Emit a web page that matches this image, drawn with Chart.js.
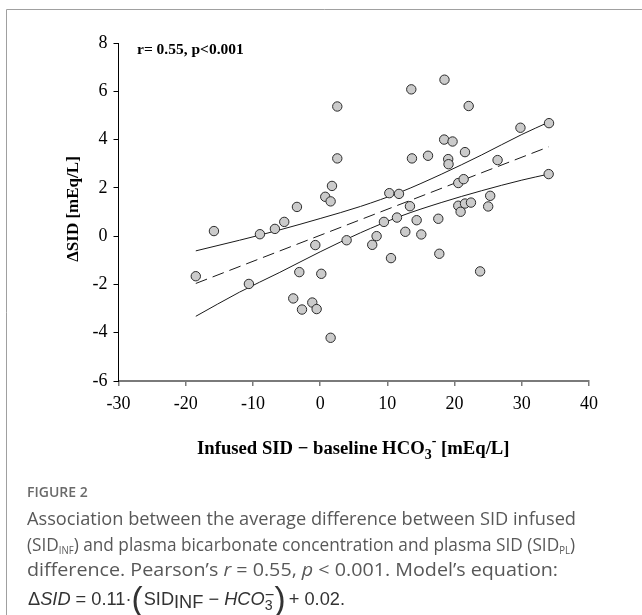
<!DOCTYPE html>
<html>
<head>
<meta charset="utf-8">
<script src="https://cdn.jsdelivr.net/npm/chart.js@4.4.1/dist/chart.umd.min.js"></script>
<style>
  html, body { margin: 0; padding: 0; background: #fff; }
  #wrap { width: 642px; height: 615px; }
</style>
</head>
<body>
<div id="wrap"><canvas id="sidChart" width="642" height="615"></canvas></div>
<script>
// ============================================
// DATA
// ============================================
const sidDiff = [-18.5, -15.8, -10.6, -8.96, -6.73, -5.34, -4.0, -3.45, -3.1, -2.7,
    -1.17, -0.72, -0.52, 0.17, 0.76, 1.56, 1.76, 1.56, 2.55, 2.55,
    3.94, 7.75, 8.4, 9.49, 10.29, 10.54, 11.43, 11.73, 12.67, 13.36,
    13.56, 13.66, 14.36, 15.05, 16.05, 17.58, 17.73, 18.45, 18.5, 19.05,
    19.1, 19.7, 20.55, 20.55, 20.9, 21.35, 21.55, 21.55, 22.1, 22.44,
    23.8, 25.0, 25.3, 26.4, 29.8, 34.05, 34.0];
const deltaSid = [-1.66, 0.21, -1.98, 0.08, 0.30, 0.59, -2.58, 1.21, -1.49, -3.04,
    -2.75, -0.37, -3.02, -1.56, 1.63, 1.44, 2.08, -4.21, 5.37, 3.22,
    -0.17, -0.36, 0.0, 0.59, 1.78, -0.91, 0.77, 1.75, 0.18, 1.24,
    6.08, 3.22, 0.66, 0.07, 3.33, 0.72, -0.73, 4.0, 6.48, 3.19,
    2.98, 3.92, 2.2, 1.26, 1.01, 2.36, 1.35, 3.48, 5.39, 1.39,
    -1.46, 1.23, 1.67, 3.15, 4.49, 4.68, 2.57];

// regression line end points
const fitX = [-18.5, 34];
const fitY = [-1.96, 3.70];

// confidence band
const bandX = [-18.5, -12, -6, 0, 6, 12, 18, 24, 30, 34];
const bandUpper = [-0.61, -0.17, 0.26, 0.73, 1.23, 1.83, 2.56, 3.36, 4.21, 4.72];
const bandLower = [-3.32, -2.32, -1.50, -0.65, 0.14, 0.83, 1.39, 1.88, 2.32, 2.57];

const xTicks = [-30, -20, -10, 0, 10, 20, 30, 40];
const yTicks = [-6, -4, -2, 0, 2, 4, 6, 8];

const SERIF = '"Liberation Serif", "Times New Roman", serif';
const SANS = '"Open Sans", "Noto Sans", sans-serif';
const EQ = '"Liberation Sans", Arial, sans-serif';

function pairs(xs, ys) {
    return xs.map((x, i) => ({ x: x, y: ys[i] }));
}

// width of a list of text runs
function runsWidth(ctx, runs) {
    let w = 0;
    runs.forEach(r => {
        ctx.font = r.font;
        w += (r.w !== undefined ? r.w : ctx.measureText(r.t).width) + (r.dx || 0);
    });
    return w;
}

// draw text runs one after another, squeezed/stretched to a target width
function drawRuns(ctx, x, y, runs, color, target) {
    ctx.save();
    ctx.translate(x, y);
    if (target) ctx.scale(target / runsWidth(ctx, runs), 1);
    let cx = 0;
    runs.forEach(r => {
        ctx.font = r.font;
        ctx.fillStyle = r.color || color;
        if (r.draw) {
            r.draw(ctx, cx);
            cx += r.w;
        } else {
            ctx.fillText(r.t, cx, r.dy || 0);
            cx += ctx.measureText(r.t).width;
        }
        cx += r.dx || 0;
    });
    ctx.restore();
}

// ============================================
// DECORATION PLUGIN (frame, titles, caption)
// ============================================
const decorPlugin = {
    id: 'decor',
    afterDraw(chart) {
        const ctx = chart.ctx;
        ctx.save();

        // outer frame
        ctx.strokeStyle = '#a0a0a0';
        ctx.lineWidth = 1;
        ctx.beginPath();
        ctx.moveTo(6.5, 615);
        ctx.lineTo(6.5, 9.5);
        ctx.lineTo(642, 9.5);
        ctx.stroke();

        ctx.textBaseline = 'alphabetic';
        ctx.textAlign = 'left';

        // stats annotation
        ctx.fillStyle = '#000';
        ctx.font = 'bold 15.5px ' + SERIF;
        ctx.fillText('r= 0.55, p<0.001', 137, 54);

        // y axis title
        ctx.save();
        ctx.translate(78, 209);
        ctx.rotate(-Math.PI / 2);
        ctx.textAlign = 'center';
        ctx.font = 'bold 17px ' + SERIF;
        ctx.fillText('\u0394SID [mEq/L]', 0, 0);
        ctx.restore();

        // x axis title
        const bold = 'bold 18.7px ' + SERIF;
        const small = 'bold 14px ' + SERIF;
        drawRuns(ctx, 197, 454, [
            { t: 'Infused SID \u2212 baseline HCO', font: bold },
            { t: '3', font: small, dy: 5 },
            { t: '-', font: small, dy: -9 },
            { t: ' [mEq/L]', font: bold }
        ], '#000');

        // caption
        ctx.fillStyle = '#6a6a6a';
        ctx.font = '600 14px ' + SANS;
        ctx.fillText('FIGURE 2', 27, 497);

        const cap = '18px ' + SANS;
        const capI = 'italic 18px ' + SANS;
        const sub = '10px ' + SANS;
        const gray = '#585858';
        drawRuns(ctx, 27, 525, [
            { t: 'Association between the average difference between SID infused', font: cap }
        ], gray, 549);
        drawRuns(ctx, 27, 551, [
            { t: '(SID', font: cap },
            { t: 'INF', font: sub, dy: 3 },
            { t: ') and plasma bicarbonate concentration and plasma SID (SID', font: cap },
            { t: 'PL', font: sub, dy: 3 },
            { t: ')', font: cap }
        ], gray, 548);
        drawRuns(ctx, 27, 576, [
            { t: 'difference. Pearson\u2019s ', font: cap },
            { t: 'r', font: capI },
            { t: ' = 0.55, ', font: cap },
            { t: 'p', font: capI },
            { t: ' < 0.001. Model\u2019s equation:', font: cap }
        ], gray, 531);

        // equation line
        const eq = '18px ' + EQ;
        const eqI = 'italic 18px ' + EQ;
        const paren = '300 33px ' + EQ;
        const ink = '#333';
        ctx.font = '14px ' + EQ;
        const w3 = ctx.measureText('3').width + 2;
        drawRuns(ctx, 28, 605, [
            { t: '\u0394', font: eq },
            { t: 'SID', font: eqI },
            { t: ' = 0.11\u00b7', font: eq },
            { t: '(', font: paren, dy: 5, dx: 1 },
            { t: 'SID', font: eq },
            { t: 'INF', font: eq, dy: 3 },
            { t: ' \u2212 ', font: eq },
            { t: 'HCO', font: eqI },
            {
                font: '14px ' + EQ, w: w3,
                draw: (c, cx) => {
                    c.fillText('3', cx, 5);
                    c.fillRect(cx + 1, -11, w3 - 2, 1.2);
                }
            },
            { t: ')', font: paren, dy: 5, dx: 3 },
            { t: '+ 0.02.', font: eq }
        ], ink, 317);

        ctx.restore();
    }
};

// ============================================
// CHART
// ============================================
function initSidChart(canvasId) {
    const ctx = document.getElementById(canvasId);
    if (!ctx) return;

    const lineStyle = {
        type: 'line',
        showLine: true,
        pointRadius: 0,
        borderColor: '#1a1a1a',
        borderWidth: 1,
        fill: false,
        tension: 0.4,
        cubicInterpolationMode: 'monotone'
    };

    new Chart(ctx, {
        type: 'scatter',
        data: {
            datasets: [
                {
                    label: 'Patients',
                    data: pairs(sidDiff, deltaSid),
                    backgroundColor: '#cbcbcb',
                    borderColor: '#2b2b2b',
                    borderWidth: 1,
                    pointRadius: 4.7,
                    order: 0
                },
                Object.assign({ label: 'Fit', data: pairs(fitX, fitY), borderDash: [12, 6], order: 1 }, lineStyle),
                Object.assign({ label: 'Upper CI', data: pairs(bandX, bandUpper), order: 2 }, lineStyle),
                Object.assign({ label: 'Lower CI', data: pairs(bandX, bandLower), order: 3 }, lineStyle)
            ]
        },
        options: {
            responsive: false,
            animation: false,
            layout: {
                padding: { top: 43, right: 53, left: 0, bottom: 0 }
            },
            plugins: {
                legend: { display: false },
                tooltip: { enabled: false }
            },
            scales: {
                x: {
                    type: 'linear',
                    min: xTicks[0],
                    max: xTicks[xTicks.length - 1],
                    afterBuildTicks: s => { s.ticks = xTicks.map(v => ({ value: v })); },
                    afterFit: s => { s.height = 234; },
                    ticks: {
                        color: '#000',
                        padding: 7,
                        font: { family: SERIF, size: 18 }
                    },
                    grid: {
                        drawOnChartArea: false,
                        tickLength: 5,
                        color: '#7a7a7a',
                        lineWidth: 1.5
                    },
                    border: { color: '#7a7a7a', width: 2 }
                },
                y: {
                    type: 'linear',
                    min: yTicks[0],
                    max: yTicks[yTicks.length - 1],
                    afterBuildTicks: s => { s.ticks = yTicks.map(v => ({ value: v })); },
                    afterFit: s => { s.width = 118.5; },
                    ticks: {
                        color: '#000',
                        padding: 6,
                        font: { family: SERIF, size: 18 }
                    },
                    grid: {
                        drawOnChartArea: false,
                        tickLength: 5,
                        color: '#000',
                        lineWidth: 1
                    },
                    border: { color: '#000', width: 1 }
                }
            }
        },
        plugins: [decorPlugin]
    });
}

initSidChart('sidChart');
</script>
</body>
</html>
